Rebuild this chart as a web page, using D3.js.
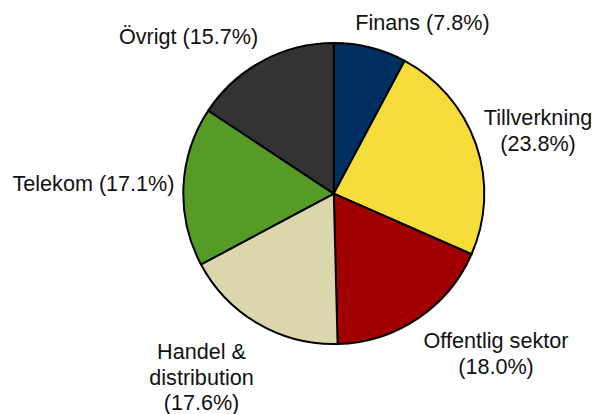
<!DOCTYPE html>
<html>
<head>
<meta charset="utf-8">
<script src="https://cdn.jsdelivr.net/npm/d3@7"></script>
<style>
  html, body { margin: 0; padding: 0; background: #ffffff; }
  svg { display: block; }
  text { font-family: "Liberation Sans", Arial, sans-serif; font-size: 21.6px; fill: #111; }
</style>
</head>
<body>
<svg id="chart" width="595" height="414"></svg>
<script>
// Sector shares, in percent, clockwise from 12 o'clock
const sectors = ["Finans", "Tillverkning", "Offentlig sektor", "Handel & distribution", "Telekom", "Övrigt"];
const shares  = [7.8, 23.8, 18.0, 17.6, 17.1, 15.7];
const colors  = ["#002f62", "#f7dd3a", "#a20000", "#dcd6ac", "#559b25", "#333333"];
// Label lines for each sector
const labelLines = [
  ["Finans (7.8%)"],
  ["Tillverkning", "(23.8%)"],
  ["Offentlig sektor", "(18.0%)"],
  ["Handel &", "distribution", "(17.6%)"],
  ["Telekom (17.1%)"],
  ["Övrigt (15.7%)"]
];
// Label anchor points (centre x, first baseline y)
const labelPos = [
  [422.5, 30], [538, 125], [496, 348], [201.5, 359], [93.5, 191], [188.5, 44]
];

const svg = d3.select("#chart");
const cx = 333.8, cy = 193.6, r = 150.5;

const data = sectors.map((s, i) => ({ name: s, value: shares[i], color: colors[i] }));
const pie = d3.pie().value(d => d.value).sort(null);
const arc = d3.arc().innerRadius(0).outerRadius(r);

const g = svg.append("g").attr("transform", `translate(${cx},${cy})`);
g.selectAll("path")
  .data(pie(data))
  .join("path")
  .attr("d", arc)
  .attr("fill", d => d.data.color)
  .attr("stroke", "#000")
  .attr("stroke-width", 2)
  .attr("stroke-linejoin", "round");

const labels = svg.append("g");
labelLines.forEach((lines, i) => {
  const t = labels.append("text")
    .attr("text-anchor", "middle")
    .attr("x", labelPos[i][0])
    .attr("y", labelPos[i][1]);
  lines.forEach((ln, j) => {
    t.append("tspan")
      .attr("x", labelPos[i][0])
      .attr("dy", j === 0 ? 0 : 25.5)
      .text(ln);
  });
});
</script>
</body>
</html>
